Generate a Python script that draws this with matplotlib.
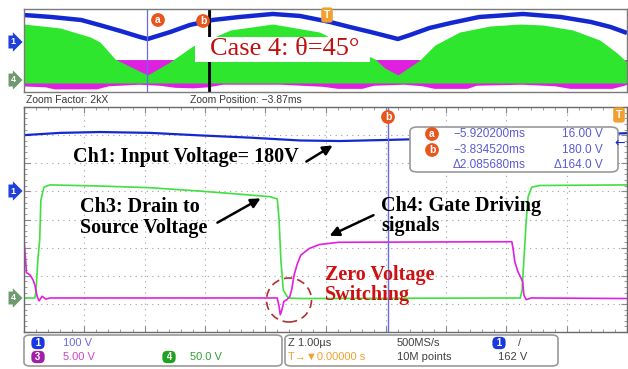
import matplotlib.pyplot as plt
from matplotlib.patches import Rectangle, FancyBboxPatch, FancyArrowPatch, Ellipse
from matplotlib.ticker import MultipleLocator

W, H = 628, 369

# ---- zoomed-out record (top strip): time in ms, level in screen divisions
top_t = [-10.0, -9.1, -8.1, -7.5, -6.8, -6.15, -5.9, -5.15, -4.5, -3.75, -2.85, -1.75, -0.85,
         0.15, 0.8, 1.5, 2.15, 2.4, 2.8, 3.45, 4.15, 5.1, 6.55, 7.8, 8.8, 9.45, 10.0]
top_vin = [7.42, 7.23, 6.94, 6.46, 5.88, 5.30, 5.11, 5.78, 6.46, 6.94, 7.23, 7.52, 7.33,
           6.75, 6.27, 5.78, 5.30, 5.11, 5.49, 6.17, 6.65, 7.23, 7.52, 7.23, 6.75, 6.27, 5.69]

env_t = [-10.0, -8.8, -7.8, -7.48, -6.98, -6.38, -5.9, -5.16, -4.4, -3.15, -1.75, -0.2, 0.65,
         1.64, 1.97, 2.4, 3.13, 3.63, 4.45, 5.45, 6.45, 7.2, 8.2, 9.1, 9.67, 10.0]
env_vds = [6.55, 6.17, 5.30, 4.82, 3.18, 2.31, 1.64, 2.89, 4.43, 5.98, 6.55, 5.78, 4.53,
           3.18, 2.31, 1.64, 3.08, 4.53, 5.78, 6.36, 6.55, 6.46, 5.98, 5.01, 3.76, 2.89]
vds_floor = 0.87

gate_lo_t = [-10.0, -9.3, -9.0, -7.6, -7.2, -6.2, -5.5, -5.0, -4.4, -3.9, -3.4, -1.5, -0.1, 0.4,
             1.2, 1.6, 2.6, 3.2, 3.6, 4.7, 5.0, 6.5, 7.6, 8.1, 9.5, 9.9, 10.0]
gate_lo = [0.58, 0.5, 0.3, 0.3, 0.6, 0.75, 0.65, 0.45, 0.4, 0.5, 0.75, 0.75, 0.55, 0.35,
           0.35, 0.65, 0.75, 0.6, 0.35, 0.35, 0.65, 0.75, 0.6, 0.35, 0.35, 0.65, 0.75]
gate_hi = 3.13

cursor_a_ms = -5.92
cursor_b_ms = -3.83
zoom_pos_ms = -3.87

# ---- zoom window: time in us, volts
vin_t = [0, 0.6, 1.26, 2.09, 2.92, 3.75, 4.58, 5.24, 6.04, 6.4, 7.9, 9.55, 10]
vin_v = [195, 203, 206, 203, 194, 186, 176, 174, 178, 180, 186, 198, 202]

vds_t = [0, 0.18, 0.2, 0.23, 0.26, 0.28, 0.33, 0.43, 1.26, 2.09, 2.92, 3.75, 4.08, 4.2, 4.23,
         4.26, 4.3, 4.38, 4.58, 8.2, 8.23, 8.26, 8.29, 8.33, 8.36, 8.42, 8.56, 10]
vds_v = [0, 0, 14, 68, 103, 174, 197, 201, 199, 196, 190, 183, 180, 176, 139,
         67, 14, 0, -1, 0, 0, 14, 68, 139, 180, 197, 200, 201]

vgs_t = [0, 0.025, 0.04, 0.1, 0.15, 0.18, 0.22, 0.25, 0.3, 0.36, 0.43, 4.18, 4.2, 4.23, 4.25,
         4.28, 4.31, 4.36, 4.41, 4.44, 4.48, 4.53, 4.59, 4.73, 4.9, 5.22, 8.09, 8.11, 8.14,
         8.19, 8.24, 8.27, 8.29, 8.33, 8.41, 10]
vgs_v = [10.3, 7.0, 4.5, 4.1, 3.2, 2.3, 0.2, -0.5, 0.3, -0.2, 0, 0, 0, -1.5, -3.0,
         -2.0, -0.6, -0.3, 0.3, 1.5, 4.1, 6.0, 7.6, 8.8, 9.5, 9.9, 10.0, 8.8, 6.4,
         4.7, 3.6, 2.9, 0.5, -0.3, 0.0, -0.1]

ch1_scale, ch1_pos = 100, 5.05   # V/div, div
ch3_scale, ch3_pos = 5, 1.21
ch4_scale, ch4_pos = 50, 1.21
cursor_us = 6.04

BLUE = '#1428d2'
GREEN = '#2ee62e'
MAGENTA = '#e020e0'
CUR = '#6a6ae6'
READ = '#5a5ad2'
ORANGE = '#e8561e'
SERIF = ['Liberation Serif', 'DejaVu Serif']
SANS = ['Liberation Sans', 'DejaVu Sans']


def fx(x):
    return x / W


def fy(y):
    return 1 - y / H


def rect(x0, y0, x1, y1):
    return [x0 / W, 1 - y1 / H, (x1 - x0) / W, (y1 - y0) / H]


fig = plt.figure(figsize=(W / 100, H / 100), dpi=100)
fig.patch.set_facecolor('white')

# ---------------- top strip
ax0 = fig.add_axes(rect(24, 9, 627, 92))
ax0.set_xlim(-10, 10)
ax0.set_ylim(0, 8)
ax0.fill_between(gate_lo_t, gate_lo, gate_hi, color=MAGENTA, lw=0)
ax0.fill_between(env_t, vds_floor, env_vds, color=GREEN, lw=0)
ax0.plot(top_t, top_vin, color=BLUE, lw=3.2, solid_capstyle='butt')
ax0.axvline(cursor_a_ms, color=CUR, lw=0.9)
ax0.axvline(cursor_b_ms, color=CUR, lw=0.9)
ax0.axvline(zoom_pos_ms, color='black', lw=2)
ax0.set_xticks([])
ax0.set_yticks([])
for s in ax0.spines.values():
    s.set_color('#7a7a7a')
    s.set_linewidth(1)

# ---------------- zoom window
ax = fig.add_axes(rect(24, 107, 627, 332))
ax.set_xlim(0, 10)
ax.set_ylim(0, 8)
ax.xaxis.set_major_locator(MultipleLocator(1))
ax.yaxis.set_major_locator(MultipleLocator(1))
ax.xaxis.set_minor_locator(MultipleLocator(0.2))
ax.yaxis.set_minor_locator(MultipleLocator(0.2))
ax.tick_params(which='both', direction='in', top=True, right=True,
               labelbottom=False, labelleft=False, color='#8a8a8a')
ax.tick_params(which='major', length=4)
ax.tick_params(which='minor', length=2.5)
ax.grid(True, which='major', color='#a0a0a0', lw=0.8, linestyle=(0, (1, 4)))
for s in ax.spines.values():
    s.set_color('#6a6a6a')
    s.set_linewidth(1)

ax.plot(vds_t, [ch4_pos + v / ch4_scale for v in vds_v], color='#40e040', lw=1.2)
ax.plot(vgs_t, [ch3_pos + v / ch3_scale for v in vgs_v], color=MAGENTA, lw=1.2)
ax.plot(vin_t, [ch1_pos + v / ch1_scale for v in vin_v], color=BLUE, lw=1.6)
ax.axvline(cursor_us, color=CUR, lw=1)

# dashed ring around the switching instant
fig.add_artist(Ellipse((fx(289), fy(300)), 45 / W, 44 / H, transform=fig.transFigure,
                       fill=False, ec='#b03030', lw=1.2, ls=(0, (5, 3))))

# cursor readout
fig.add_artist(FancyBboxPatch((fx(410), fy(172)), 208 / W, 45 / H,
                              boxstyle='round,pad=0,rounding_size=0.012',
                              transform=fig.transFigure, fc='white', ec='#9a9a9a', lw=1.2))
rows = [('a', '−5.920200ms', '16.00 V', 134),
        ('b', '−3.834520ms', '180.0 V', 150),
        ('', 'Δ2.085680ms', 'Δ164.0 V', 165)]
for tag, tv, vv, yy in rows:
    if tag:
        fig.text(fx(432), fy(yy), tag, color='white', fontsize=7.5, fontweight='bold',
                 ha='center', va='center', family=SANS,
                 bbox=dict(boxstyle='circle,pad=0.18', fc=ORANGE, ec='none'))
    fig.text(fx(453), fy(yy), tv, color=READ, fontsize=8.5, va='center', family=SANS)
    fig.text(fx(603), fy(yy), vv, color=READ, fontsize=8.5, va='center', ha='right', family=SANS)

# cursor tags
for tag, x, y in [('a', 158, 20), ('b', 203, 21), ('b', 388, 117)]:
    fig.text(fx(x), fy(y), tag, color='white', fontsize=7.5, fontweight='bold',
             ha='center', va='center', family=SANS,
             bbox=dict(boxstyle='circle,pad=0.18', fc=ORANGE, ec='none'))

# trigger markers
fig.text(fx(327), fy(15), 'T', color='white', fontsize=7.5, fontweight='bold', ha='center',
         va='center', family=SANS,
         bbox=dict(boxstyle='round,pad=0.25', fc='#f0a030', ec='none'))
fig.text(fx(619), fy(115), 'T', color='white', fontsize=7.5, fontweight='bold', ha='center',
         va='center', family=SANS,
         bbox=dict(boxstyle='round,pad=0.25', fc='#f0a030', ec='none'))
fig.text(fx(620), fy(143), '←', color=BLUE, fontsize=9, ha='center', va='center',
         family=['DejaVu Sans'])

# channel flags on the left edge
for lbl, y, c in [('1', 42, '#2040d8'), ('4', 80, '#6f9a6f'),
                  ('1', 191, '#2040d8'), ('4', 298, '#6f9a6f')]:
    fig.text(fx(13), fy(y), lbl, color='white', fontsize=6.5, fontweight='bold',
             ha='center', va='center', family=SANS,
             bbox=dict(boxstyle='rarrow,pad=0.22', fc=c, ec='none'))

# zoom info line
fig.text(fx(26), fy(100), 'Zoom Factor: 2kX', fontsize=7.5, color='#383838',
         va='center', family=SANS)
fig.text(fx(190), fy(100), 'Zoom Position: −3.87ms', fontsize=7.5, color='#383838',
         va='center', family=SANS)

# case label
fig.add_artist(Rectangle((fx(195), fy(62)), 175 / W, 25 / H, transform=fig.transFigure,
                         fc='white', ec='none'))
fig.text(fx(210), fy(49), 'Case 4: θ=45°', fontsize=19, color='#c01010',
         va='center', family=SERIF)

# annotations
bold = dict(fontsize=14.5, fontweight='bold', color='black', va='center', family=SERIF)
fig.text(fx(73), fy(157), 'Ch1: Input Voltage= 180V', **bold)
fig.text(fx(80), fy(207), 'Ch3: Drain to', **bold)
fig.text(fx(80), fy(228), 'Source Voltage', **bold)
fig.text(fx(381), fy(206), 'Ch4: Gate Driving', **bold)
fig.text(fx(381), fy(226), 'signals', **bold)
red = dict(bold, color='#d01010')
fig.text(fx(325), fy(275), 'Zero Voltage', **red)
fig.text(fx(325), fy(295), 'Switching', **red)

for (x0, y0), (x1, y1) in [((304, 163), (335, 144)),
                           ((215, 224), (263, 197)),
                           ((376, 214), (327, 237))]:
    fig.add_artist(FancyArrowPatch((fx(x0), fy(y0)), (fx(x1), fy(y1)),
                                   transform=fig.transFigure, arrowstyle='-|>',
                                   mutation_scale=14, lw=1.8, color='black'))

# status bar
for x0, x1 in [(24, 282), (285, 558)]:
    fig.add_artist(FancyBboxPatch((fx(x0), fy(366)), (x1 - x0) / W, 31 / H,
                                  boxstyle='round,pad=0,rounding_size=0.01',
                                  transform=fig.transFigure, fc='white',
                                  ec='#9a9a9a', lw=1.2))


def pill(x, y, lbl, c):
    fig.text(fx(x), fy(y), lbl, color='white', fontsize=7, fontweight='bold',
             ha='center', va='center', family=SANS,
             bbox=dict(boxstyle='round,pad=0.12,rounding_size=0.5', fc=c, ec='none'))


pill(38, 343, ' 1 ', '#1838e0')
pill(38, 357, ' 3 ', '#a020a8')
pill(169, 357, ' 4 ', '#22a022')
pill(499, 343, ' 1 ', '#1838e0')
fig.text(fx(63), fy(343), '100 V', fontsize=8, color='#6a6ae6', va='center', family=SANS)
fig.text(fx(63), fy(357), '5.00 V', fontsize=8, color='#d040d0', va='center', family=SANS)
fig.text(fx(190), fy(357), '50.0 V', fontsize=8, color='#30a030', va='center', family=SANS)
fig.text(fx(288), fy(343), 'Z 1.00µs', fontsize=8, color='#404040', va='center', family=SANS)
fig.text(fx(288), fy(357), 'T→▼0.00000 s', fontsize=8, color='#f0a030', va='center',
         family=SANS)
fig.text(fx(397), fy(343), '500MS/s', fontsize=8, color='#404040', va='center', family=SANS)
fig.text(fx(397), fy(357), '10M points', fontsize=8, color='#404040', va='center', family=SANS)
fig.text(fx(518), fy(343), '/', fontsize=8, color='#404040', va='center', family=SANS)
fig.text(fx(498), fy(357), '162 V', fontsize=8, color='#404040', va='center', family=SANS)

fig.savefig('out.png', dpi=100)
